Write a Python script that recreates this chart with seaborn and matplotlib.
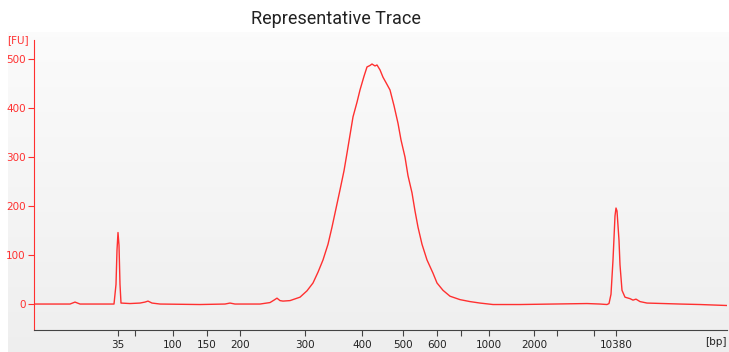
import numpy as np
import pandas as pd
import seaborn as sns
import matplotlib.pyplot as plt

# electropherogram trace: migration time (s) vs fluorescence (FU)
mig_time = [3.4, 7.0, 7.5, 8.0, 11.0, 11.4, 11.6, 11.7, 11.8, 11.9, 12.0, 12.1,
            13.0, 14.0, 14.5, 14.8, 15.2, 16.0, 20.0, 22.5, 23.0, 23.5, 26.0,
            27.0, 27.4, 27.7, 28.0, 28.3, 29.0, 30.0, 30.7, 31.3, 31.8, 32.3,
            32.8, 33.2, 33.6, 34.0, 34.4, 34.7, 35.0, 35.3, 35.7, 36.0, 36.4,
            36.7, 37.0, 37.2, 37.5, 37.7, 38.0, 38.3, 38.6, 39.0, 39.4, 39.8,
            40.1, 40.5, 40.8, 41.2, 41.5, 41.8, 42.2, 42.7, 43.3, 43.7, 44.3,
            45.0, 46.0, 47.0, 48.0, 49.3, 52.0, 55.3, 58.7, 60.0, 60.7, 60.9,
            61.1, 61.3, 61.5, 61.6, 61.7, 61.9, 62.0, 62.2, 62.5, 63.0, 63.3,
            63.6, 64.0, 64.7, 68.0, 70.0, 72.7]
fluorescence = [0, 0, 4, 0, 0, 0, 40, 110, 146, 120, 40, 2,
                1, 2, 4, 6, 2, 0, -1, 0, 2, 0, 0,
                3, 8, 12, 7, 6, 7, 14, 27, 43, 65, 90,
                122, 157, 195, 233, 272, 308, 345, 382, 412, 437, 465,
                484, 487, 490, 486, 488, 478, 463, 452, 437, 405, 369,
                335, 300, 262, 227, 190, 157, 122, 90, 63, 43, 28,
                16, 9, 5, 2, -1, -1, 0, 1, 0, -1, 1,
                20, 90, 180, 196, 190, 130, 80, 28, 14, 11, 8,
                10, 5, 2, 0, -1, -3]

# ladder sizes (bp) and their migration times
ladder_time = [11.8, 13.5, 17.3, 20.7, 24.0, 30.5, 36.2, 40.3, 43.7, 46.1,
               48.9, 53.4, 55.7, 59.4, 61.6]
ladder_bp = [35, 50, 100, 150, 200, 300, 400, 500, 600, 700,
             1000, 2000, 3000, 7000, 10380]
ladder_labels = ['35', '', '100', '150', '200', '300', '400', '500', '600', '',
                 '1000', '2000', '', '', '10380']
fu_ticks = [0, 100, 200, 300, 400, 500]

trace = pd.DataFrame({'time': mig_time, 'fu': fluorescence})

RED = '#ff3030'
GREY = '#444444'

fig = plt.figure(figsize=(7.29, 3.52), dpi=100)

# light grey gradient behind the plot
bg = fig.add_axes([8 / 729, 0, 1 - 8 / 729, 320 / 352], zorder=0)
grad = np.linspace(0.985, 0.935, 256).reshape(-1, 1)
bg.imshow(np.dstack([grad, grad, grad]), aspect='auto', extent=[0, 1, 0, 1])
bg.axis('off')

ax = fig.add_axes([34 / 729, 22 / 352, 693 / 729, 290 / 352], zorder=1)
ax.patch.set_alpha(0)

sns.lineplot(data=trace, x='time', y='fu', ax=ax, color=RED, linewidth=1.0,
             sort=False, estimator=None)

ax.set_xlim(3.4, 72.7)
ax.set_ylim(-53, 539)
ax.set_xlabel('')
ax.set_ylabel('')

ax.set_xticks(ladder_time)
ax.set_xticklabels(ladder_labels)
ax.set_yticks(fu_ticks)

for side in ['top', 'right']:
    ax.spines[side].set_visible(False)
ax.spines['left'].set_color(RED)
ax.spines['bottom'].set_color(GREY)

ax.tick_params(axis='y', colors=RED, labelsize=7.5, length=4, width=0.8, pad=2)
ax.tick_params(axis='x', colors=GREY, labelcolor='#222222', labelsize=7.5,
               length=4, width=0.8, pad=3)

ax.text(-0.023, 1.0, '[FU]', transform=ax.transAxes, color=RED, fontsize=7.5,
        ha='center', va='center')
fig.text(727 / 729, 10 / 352, '[bp]', color='#222222', fontsize=7.5,
         ha='right', va='center')

fig.text(336 / 729, 1 - 19 / 352, 'Representative Trace', fontsize=13,
         family='Roboto', color='#222222', ha='center', va='center')

fig.savefig('out.png', dpi=100)
plt.close(fig)
